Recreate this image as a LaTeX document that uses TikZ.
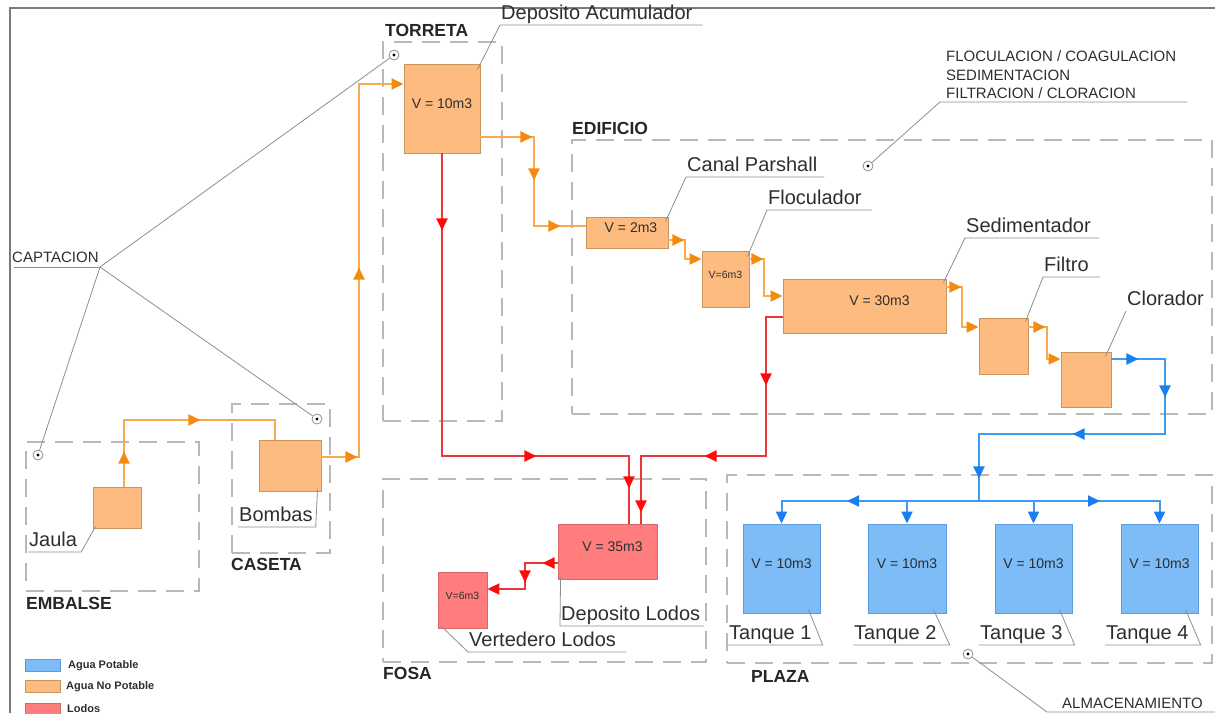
\documentclass[tikz,border=0pt]{standalone}
\usepackage{fontspec}
\setmainfont{Liberation Sans}
\usetikzlibrary{arrows.meta,decorations.markings,calc,fit}
\definecolor{ofill}{HTML}{FDBB7F}
\definecolor{oedge}{HTML}{C9955F}
\definecolor{oline}{HTML}{F7AA4E}
\definecolor{ohead}{HTML}{F58A10}
\definecolor{rfill}{HTML}{FF7D7D}
\definecolor{redge}{HTML}{D86868}
\definecolor{rline}{HTML}{E8383C}
\definecolor{rhead}{HTML}{FF0A0A}
\definecolor{bfill}{HTML}{7DBCF6}
\definecolor{bedge}{HTML}{5B9BE0}
\definecolor{bline}{HTML}{3D9BF0}
\definecolor{bhead}{HTML}{1A7EF0}
\definecolor{grpgray}{HTML}{B8B8B8}
\definecolor{leadgray}{HTML}{8E8E8E}
\definecolor{framegray}{HTML}{7A7A7A}
\definecolor{txt}{HTML}{2E2E2E}
\tikzset{
  ohd/.tip={Triangle[length=12pt,width=11pt,color=ohead]},
  rhd/.tip={Triangle[length=12pt,width=11pt,color=rhead]},
  bhd/.tip={Triangle[length=12pt,width=11pt,color=bhead]},
  oam/.style={postaction={decorate,decoration={markings,mark=at position #1 with {\arrow{ohd}}}}},
  ram/.style={postaction={decorate,decoration={markings,mark=at position #1 with {\arrow{rhd}}}}},
  bam/.style={postaction={decorate,decoration={markings,mark=at position #1 with {\arrow{bhd}}}}},
  oflow/.style={draw=oline,line width=2pt},
  rflow/.style={draw=rline,line width=2pt},
  bflow/.style={draw=bline,line width=2pt},
  grp/.style={draw=grpgray,line width=1.6pt,dash pattern=on 18pt off 10pt,inner sep=0pt},
  grplbl/.style={font=\fontsize{17.5}{20}\selectfont\bfseries,anchor=west,inner sep=0pt,text=black!85},
  obox/.style={draw=oedge,fill=ofill,line width=0.9pt,inner sep=0pt,font=\fontsize{14}{16}\selectfont},
  rbox/.style={draw=redge,fill=rfill,line width=0.9pt,inner sep=0pt,font=\fontsize{14}{16}\selectfont},
  bbox/.style={draw=bedge,fill=bfill,line width=0.9pt,inner sep=0pt,font=\fontsize{14}{16}\selectfont},
  tinyf/.style={font=\fontsize{10.5}{12}\selectfont},
  lbl/.style={font=\fontsize{20}{24}\selectfont,anchor=south west,inner xsep=1pt,inner ysep=1pt,text height=14.5pt,text depth=4pt},
  capl/.style={font=\fontsize{15}{18}\selectfont,anchor=base west,inner sep=0pt},
  lead/.style={draw=leadgray,line width=0.8pt},
  dotc/.style={circle,draw=leadgray,fill=white,line width=0.8pt,minimum size=10pt,inner sep=0pt,
    path picture={\fill[black] (path picture bounding box.center) circle (1.7pt);}},
  leg/.style={font=\fontsize{11}{13}\selectfont\bfseries,anchor=west,inner sep=0pt},
  every node/.append style={text=txt}
}
\begin{document}
\begin{tikzpicture}[x=1pt,y=-1pt]
\useasboundingbox (0,0) rectangle (1215,713);
% frame
\draw[framegray,line width=1.5pt] (10,713) -- (10,8) -- (1215,8);

% group boxes
\node[grp,fit={(26,442) (199,591)}] (embalse) {};
\node[grp,fit={(232,404) (330,553)}] (caseta) {};
\node[grp,fit={(383,42) (502,421)}] (torreta) {};
\node[grp,fit={(572,140) (1212,414)}] (edificio) {};
\node[grp,fit={(383,479) (706,662)}] (fosa) {};
\node[grp,fit={(727,475) (1212,663)}] (plaza) {};
\node[grplbl] (lembalse) at (26,603) {EMBALSE};
\node[grplbl] (lcaseta) at (231,564) {CASETA};
\node[grplbl] (ltorreta) at (385,30) {TORRETA};
\node[grplbl] (ledificio) at (572,128) {EDIFICIO};
\node[grplbl] (lfosa) at (383,673) {FOSA};
\node[grplbl] (lplaza) at (751,676) {PLAZA};

% process boxes
\node[obox,fit={(93,487) (141,528)}] (jaula) {};
\node[obox,fit={(259,440) (321,491)}] (bombas) {};
\node[obox,fit={(404,64) (480,153)}] (acum) {V = 10m3};
\node[obox,fit={(586,217) (668,248)}] (canal) {\hspace*{8pt}V = 2m3};
\node[obox,tinyf,fit={(702,251) (749,307)}] (floc) {V=6m3};
\node[obox,fit={(783,279) (946,333)}] (sed) {\hspace*{30pt}V = 30m3};
\node[obox,fit={(979,318) (1028,374)}] (filtro) {};
\node[obox,fit={(1061,352) (1111,407)}] (clor) {};
\node[rbox,fit={(558,524) (657,579)}] (lodos) {\hspace*{10pt}V = 35m3};
\node[rbox,tinyf,fit={(438,572) (487,628)}] (vert) {V=6m3};
\node[bbox,fit={(743,524) (820,613)}] (t1) {V = 10m3};
\node[bbox,fit={(868,524) (946,613)}] (t2) {V = 10m3};
\node[bbox,fit={(995,524) (1072,613)}] (t3) {V = 10m3};
\node[bbox,fit={(1121,524) (1198,613)}] (t4) {V = 10m3};

% orange flows
\coordinate (c1) at (124,420);
\coordinate (c2) at (275,420);
\draw[oflow,oam=35pt,oam=143pt] ([xshift=7pt]jaula.north) -- (c1) -- (c2) -- ([xshift=-15pt]bombas.north);
\coordinate (k1) at (359,457);
\coordinate (k2) at (359,84);
\draw[oflow,oam=36pt,oam=227pt,-ohd] (bombas.east |- k1) -- (k1) -- (k2) -- (acum.west |- k2);
\coordinate (k3) at (534,137);
\coordinate (k4) at (534,226);
\draw[oflow,oam=52pt,oam=97pt,oam=169pt] (acum.east |- k3) -- (k3) -- (k4) -- (canal.west |- k4);
\coordinate (k5) at (685,240);
\coordinate (k6) at (685,259);
\draw[oflow,oam=16pt,-ohd] (canal.east |- k5) -- (k5) -- (k6) -- (floc.west |- k6);
\coordinate (k7) at (764,259);
\coordinate (k8) at (764,296);
\draw[oflow,oam=14pt,-ohd] (floc.east |- k7) -- (k7) -- (k8) -- (sed.west |- k8);
\coordinate (k9) at (962,287);
\coordinate (k10) at (962,327);
\draw[oflow,oam=15pt,-ohd] (sed.east |- k9) -- (k9) -- (k10) -- (filtro.west |- k10);
\coordinate (k11) at (1047,327);
\coordinate (k12) at (1047,359);
\draw[oflow,oam=17pt,-ohd] (filtro.east |- k11) -- (k11) -- (k12) -- (clor.west |- k12);

% blue flows
\coordinate (b1) at (1165,359);
\coordinate (b2) at (1165,434);
\coordinate (b3) at (979,434);
\coordinate (bj) at (979,501);
\draw[bflow,bam=27pt,bam=92pt,bam=221pt,bam=359pt] (clor.east |- b1) -- (b1) -- (b2) -- (b3) -- (bj);
\draw[bflow,bam=132pt,-bhd] (bj) -- (t1.north |- bj) -- (t1.north);
\draw[bflow,bam=121pt,-bhd] (bj) -- (t4.north |- bj) -- (t4.north);
\draw[bflow,-bhd] (t2.north |- bj) -- (t2.north);
\draw[bflow,-bhd] (t3.north |- bj) -- (t3.north);

% red flows
\coordinate (r1) at (442,456);
\coordinate (r2) at (629,456);
\draw[rflow,ram=77pt,ram=397pt,ram=522pt] (acum.south) -- (r1) -- (r2) -- (lodos.north -| r2);
\coordinate (r3) at (766,317);
\coordinate (r4) at (766,456);
\coordinate (r5) at (641,456);
\draw[rflow,ram=85pt,ram=217pt,ram=337pt] (sed.west |- r3) -- (r3) -- (r4) -- (r5) -- (lodos.north -| r5);
\coordinate (r6) at (525,563);
\coordinate (r7) at (525,589);
\draw[rflow,ram=15pt,ram=52pt,-rhd] (lodos.west |- r6) -- (r6) -- (r7) -- (vert.east |- r7);

% labels with leaders
\node[lbl] (lacum) at (500,25) {Deposito Acumulador};
\draw[lead] ([shift={(-3,6)}]acum.north east) -- (lacum.south west) -- ([xshift=9pt]lacum.south east);
\node[lbl] (lcan) at (686,177) {Canal Parshall};
\draw[lead] ([shift={(-3,5)}]canal.north east) -- (lcan.south west) -- ([xshift=6pt]lcan.south east);
\node[lbl] (lflo) at (767,210) {Floculador};
\draw[lead] ([shift={(-2,6)}]floc.north east) -- (lflo.south west) -- ([xshift=9pt]lflo.south east);
\node[lbl] (lsed) at (965,238) {Sedimentador};
\draw[lead] ([shift={(-3,4)}]sed.north east) -- (lsed.south west) -- ([xshift=7pt]lsed.south east);
\node[lbl] (lfil) at (1043,277) {Filtro};
\draw[lead] ([shift={(-3,4)}]filtro.north east) -- (lfil.south west) -- ([xshift=10pt]lfil.south east);
\node[lbl] (lclo) at (1126,311) {Clorador};
\draw[lead] ([shift={(-6,5)}]clor.north east) -- (lclo.south west);
\node[lbl] (ljau) at (28,552) {Jaula};
\draw[lead] ([shift={(3,-2)}]jaula.south west) -- ([xshift=3pt]ljau.south east) -- (ljau.south west);
\node[lbl] (lbom) at (238,527) {Bombas};
\draw[lead] ([shift={(-4,-2)}]bombas.south east) -- ([xshift=2pt]lbom.south east) -- (lbom.south west);
\node[lbl] (llod) at (560,626) {Deposito Lodos};
\draw[lead] ([shift={(3,-2)}]lodos.south west) -- (llod.south west) -- ([xshift=3pt]llod.south east);
\node[lbl] (lver) at (468,652) {Vertedero Lodos};
\draw[lead] ([shift={(3,-3)}]vert.south west) -- (lver.south west) -- ([xshift=9pt]lver.south east);
\node[lbl] (lt1) at (728,645) {Tanque 1};
\draw[lead] ([shift={(-12,-4)}]t1.south east) -- ([xshift=10pt]lt1.south east) -- (lt1.south west);
\node[lbl] (lt2) at (853,645) {Tanque 2};
\draw[lead] ([shift={(-13,-4)}]t2.south east) -- ([xshift=12pt]lt2.south east) -- (lt2.south west);
\node[lbl] (lt3) at (979,645) {Tanque 3};
\draw[lead] ([shift={(-13,-4)}]t3.south east) -- ([xshift=11pt]lt3.south east) -- (lt3.south west);
\node[lbl] (lt4) at (1105,645) {Tanque 4};
\draw[lead] ([shift={(-13,-4)}]t4.south east) -- ([xshift=11pt]lt4.south east) -- (lt4.south west);

% annotation dots and caps labels
\node[dotc] (dtor) at (394,55) {};
\node[dotc] (demb) at (38,455) {};
\node[dotc] (dcas) at (317,419) {};
\node[dotc] (dedi) at (868,166) {};
\node[dotc] (dpla) at (968,654) {};
\node[capl] (lcap) at (12,262.5) {CAPTACION};
\coordinate (ucap0) at (14,267);
\coordinate (ucap1) at (100,267);
\draw[lead] (ucap0) -- (ucap1);
\draw[lead] (ucap1) -- (dtor);
\draw[lead] (ucap1) -- (demb);
\draw[lead] (ucap1) -- (dcas);
\node[capl] (lfl1) at (946,61.5) {FLOCULACION / COAGULACION};
\node[capl] (lfl2) at (946,80) {SEDIMENTACION};
\node[capl] (lfl3) at (946,98) {FILTRACION / CLORACION};
\coordinate (ufl0) at (940,102);
\coordinate (ufl1) at (1187,102);
\draw[lead] (dedi) -- (ufl0) -- (ufl1);
\node[capl] (lalm) at (1062,708.5) {ALMACENAMIENTO};
\coordinate (ual0) at (1047,712);
\coordinate (ual1) at (1215,712);
\draw[lead] (dpla) -- (ual0) -- (ual1);

% legend
\node[draw=bedge,fill=bfill,line width=0.8pt,inner sep=0pt,fit={(25,659) (60,671)}] (legb) {};
\node[draw=oedge,fill=ofill,line width=0.8pt,inner sep=0pt,fit={(25,680) (60,692)}] (lego) {};
\node[draw=redge,fill=rfill,line width=0.8pt,inner sep=0pt,fit={(25,703) (60,716)}] (legr) {};
\node[leg] (tlegb) at (68,666) {Agua Potable};
\node[leg] (tlego) at (66,687) {Agua No Potable};
\node[leg] (tlegr) at (67,709) {Lodos};
\end{tikzpicture}
\end{document}
